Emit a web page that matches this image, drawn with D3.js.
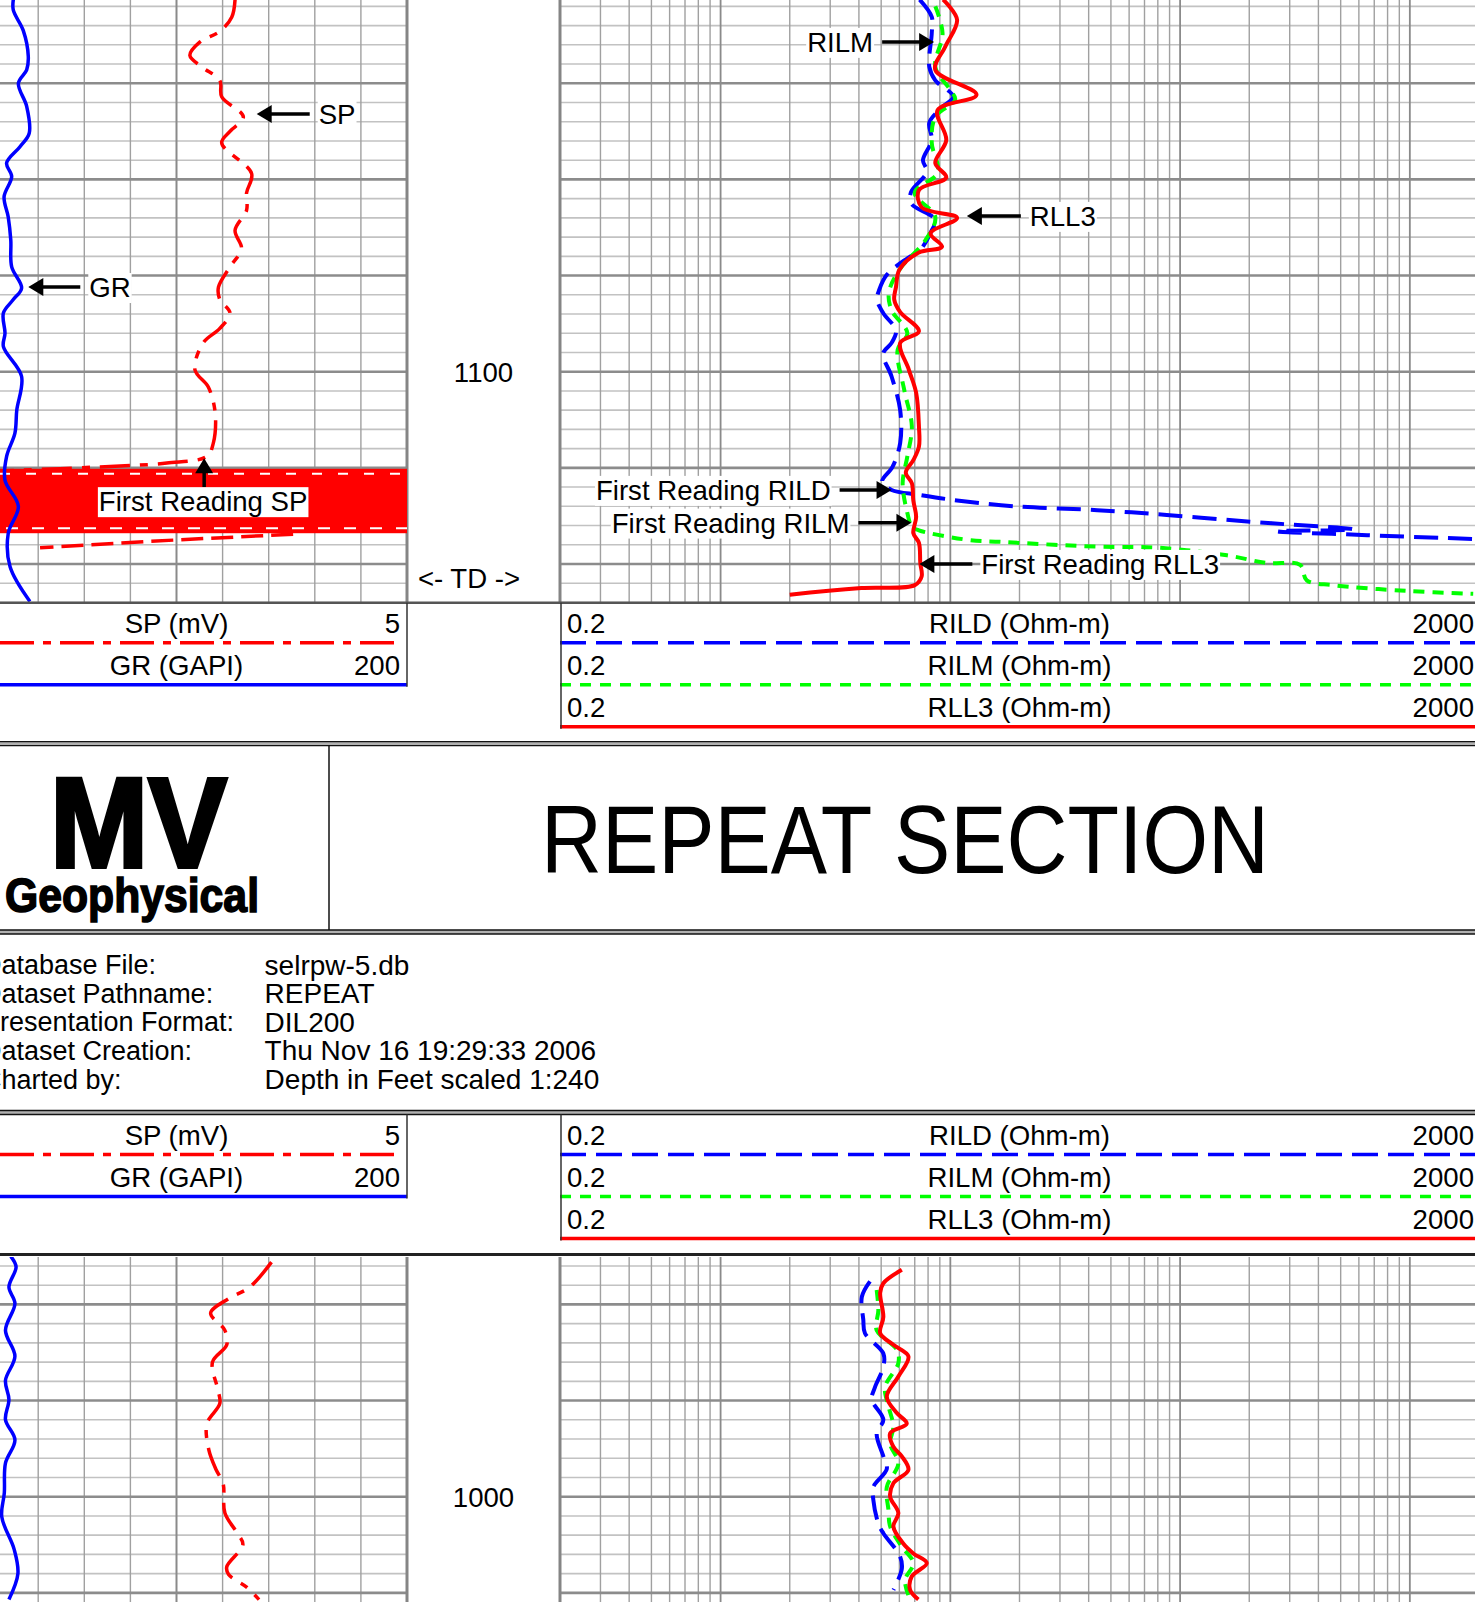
<!DOCTYPE html>
<html>
<head>
<meta charset="utf-8">
<script src="https://cdn.jsdelivr.net/npm/d3@7"></script>
<style>
  body { margin: 0; background: #fff; }
  svg { display: block; font-family: "Liberation Sans", Arial, sans-serif; }
</style>
</head>
<body>
<svg width="1475" height="1602"></svg>
<script>
var svg = d3.select("svg"),
    width = +svg.attr("width"),
    height = +svg.attr("height");

// ---------- curve scales (track min / max) ----------
var grScaleRange = [0, 200];
var spScaleRange = [-95, 5];
var resScaleRange = [0.2, 2000];

// ---------- main pass : [depth ft, value] ----------
var mainGR = [
  [1061.3,29.2],[1062.4,29.2],[1064.5,33.5],[1067.2,35.7],[1068.6,35.0],[1070.0,31.4],
  [1072.4,35.0],[1075.2,36.1],[1076.6,32.1],[1078.3,26.3],[1079.7,28.5],[1081.8,25.2],
  [1083.9,27.0],[1086.3,28.1],[1089.1,28.5],[1091.3,32.8],[1092.5,29.2],[1093.9,24.9],
  [1096.0,25.6],[1097.4,24.9],[1100.5,32.8],[1104.0,30.7],[1106.4,29.9],[1108.8,26.3],
  [1111.3,25.6],[1114.0,31.4],[1116.8,27.0],[1120.3,27.8],[1123.9,36.4]
];
var mainSP = [
  [1061.3,-32.3],[1063.1,-33.0],[1064.6,-35.6],[1065.7,-39.9],[1067.1,-42.1],[1068.3,-39.5],
  [1069.7,-35.6],[1071.4,-35.2],[1073.5,-30.5],[1075.0,-33.4],[1076.2,-35.2],[1079.4,-28.7],
  [1081.4,-29.8],[1083.2,-29.8],[1085.3,-32.3],[1087.2,-30.9],[1089.1,-33.4],[1091.2,-35.9],
  [1092.5,-35.6],[1093.9,-33.4],[1095.5,-35.6],[1097.0,-39.2],[1099.8,-41.0],[1101.6,-38.1],
  [1104.3,-36.6],[1107.4,-37.0],[1108.8,-38.4],[1109.5,-47.1],[1109.9,-61.6],[1110.3,-81.8]
];
// SP below its first reading swings across the whole track
var spJunkBand = [1110.1, 1116.8];
var spJunkTail = [[1116.9,-19.7],[1117.5,-45.0],[1118.3,-74.6]];

var mainRILD = [
  [1061.3,7.35],[1063.1,8.3],[1064.8,8.3],[1068.3,8.1],[1069.7,8.6],[1071.4,10.3],
  [1072.4,9.3],[1074.1,8.1],[1075.9,8.3],[1078.0,7.6],[1079.2,7.9],[1081.3,6.75],
  [1082.5,6.75],[1084.2,8.6],[1085.3,8.3],[1087.4,7.35],[1088.2,6.5],[1089.9,5.3],
  [1091.5,4.9],[1092.5,4.8],[1093.9,5.1],[1095.7,5.8],[1097.0,5.55],[1098.1,5.1],
  [1100.5,5.55],[1104.0,6.05],[1107.4,6.05],[1109.9,5.6],[1111.4,5.05],[1112.3,5.55],
  [1112.8,7.3],[1113.3,10.0],[1114.0,19.1],[1114.4,43.6],[1114.9,87.5],[1115.6,202],
  [1115.9,301],[1116.4,567],[1116.6,265],[1117.0,652],[1117.4,1887]
];
var mainRILM = [
  [1062.0,8.6],[1064.8,9.25],[1068.3,8.6],[1070.7,10.0],[1071.7,10.5],[1073.5,8.6],
  [1076.2,8.3],[1079.3,8.8],[1081.4,7.0],[1083.9,8.6],[1086.3,7.8],[1089.4,6.0],
  [1091.8,5.4],[1093.6,5.55],[1096.0,6.5],[1097.7,5.9],[1101.9,6.3],[1105.7,6.8],
  [1108.8,6.5],[1111.6,6.2],[1114.7,6.5],[1116.1,6.8],[1116.5,7.3],[1117.5,12.0],
  [1117.7,16.5],[1118.2,43.6],[1118.3,79.3],[1119.1,160],[1119.9,239],[1120.1,333],
  [1121.7,356],[1122.2,464],[1122.8,971],[1123.1,1887]
];
var mainRLL3 = [
  [1061.3,9.3],[1063.4,10.7],[1066.2,9.5],[1068.6,8.6],[1071.2,13.0],[1072.8,8.8],
  [1075.9,9.6],[1078.3,8.6],[1079.8,9.6],[1081.1,7.3],[1082.9,7.5],[1084.0,10.7],
  [1085.6,8.2],[1087.0,9.2],[1087.6,7.3],[1089.4,6.0],[1091.2,5.8],[1092.5,5.7],
  [1093.8,6.05],[1095.8,7.3],[1097.0,6.05],[1099.8,6.6],[1102.2,7.1],[1105.7,7.3],
  [1107.8,7.3],[1109.2,6.9],[1110.5,6.4],[1111.6,6.8],[1113.4,6.9],[1115.1,7.1],
  [1116.8,6.9],[1117.8,7.3],[1119.9,7.4],[1121.3,7.5],[1122.2,7.0],[1122.5,4.1],[1123.2,2.0]
];

// ---------- repeat pass ----------
var repGR = [
  [975.0,28.1],[976.1,30.4],[978.2,27.3],[979.9,29.9],[982.7,25.8],[985.4,29.9],
  [987.9,25.8],[989.9,27.3],[992.0,25.8],[994.1,29.9],[996.5,25.8],[999.6,25.3],
  [1002.1,24.2],[1005.5,29.6],[1008.0,31.2],[1010.7,27.3]
];
var repSP = [
  [975.6,-24.4],[978.2,-29.1],[979.4,-33.7],[980.9,-37.6],[982.7,-34.5],[984.2,-34.1],
  [986.0,-37.2],[988.9,-36.0],[990.3,-35.6],[992.4,-38.4],[995.1,-38.0],[997.2,-36.4],
  [998.6,-34.9],[1001.7,-34.5],[1003.8,-31.8],[1005.0,-30.6],[1007.3,-34.1],[1008.1,-33.7],
  [1009.4,-29.8],[1010.7,-27.1]
];
var repRILD = [
  [977.6,4.47],[979.2,4.12],[981.6,4.18],[983.0,4.25],[985.1,5.11],[986.5,5.11],
  [988.6,4.7],[989.9,4.55],[992.0,5.11],[993.4,4.78],[995.8,5.11],[997.1,5.29],
  [999.0,4.62],[1000.3,4.62],[1002.8,4.86],[1003.8,5.11],[1006.2,6.04],[1007.5,6.15],[1009.7,5.65]
];
var repRILM = [
  [978.5,4.78],[980.6,4.86],[982.7,4.78],[984.7,5.85],[986.1,5.94],[988.6,5.2],
  [990.6,5.38],[992.7,5.65],[994.5,5.47],[996.5,5.94],[999.0,5.29],[1001.4,5.38],
  [1003.1,5.47],[1005.2,6.15],[1006.9,6.9],[1008.7,6.35],[1010.7,6.68]
];
var repRLL3 = [
  [976.4,6.15],[977.8,5.11],[978.8,4.95],[981.3,5.11],[983.0,4.95],[984.2,5.65],
  [985.4,6.57],[987.5,5.94],[989.6,5.29],[991.3,5.85],[992.4,6.46],[993.4,5.47],
  [994.8,5.65],[995.8,6.15],[997.2,6.57],[998.6,5.65],[1000.0,5.47],[1001.7,5.94],
  [1003.1,5.65],[1004.9,6.25],[1005.9,6.9],[1006.9,7.9],[1008.3,6.79],[1009.7,6.68],[1010.7,7.26]
];

var mainDepthLabels = [1100];
var repDepthLabels = [1000];
var tdDepth = 1121.5;

var leftLegend = [
  {name: "SP (mV)", hi: "5", color: "#ff0000", dash: "34,9,8,9"},
  {name: "GR (GAPI)", hi: "200", color: "#0000ff", dash: null}
];
var rightLegend = [
  {name: "RILD (Ohm-m)", lo: "0.2", hi: "2000", color: "#0000ff", dash: "26,10"},
  {name: "RILM (Ohm-m)", lo: "0.2", hi: "2000", color: "#00ff00", dash: "11,9"},
  {name: "RLL3 (Ohm-m)", lo: "0.2", hi: "2000", color: "#ff0000", dash: null}
];

var infoLabels = ["Database File:", "Dataset Pathname:", "Presentation Format:", "Dataset Creation:", "Charted by:"];
var infoValues = ["selrpw-5.db", "REPEAT", "DIL200", "Thu Nov 16 19:29:33 2006", "Depth in Feet scaled 1:240"];

// ---------- layout ----------
var FS = 27.6;
var pxPerFt = 9.614;
var leftTrack = [-54, 407], resTrack = [560, 1479];
var mainDepth = d3.scaleLinear()
    .domain([1100 - 371.7 / pxPerFt, 1100 + (602.7 - 371.7) / pxPerFt])
    .range([0, 602.7]);
var repDepth = d3.scaleLinear()
    .domain([1000 - (1496.7 - 1257) / pxPerFt, 1000 + (1602 - 1496.7) / pxPerFt])
    .range([1257, 1602]);
var xGR = d3.scaleLinear().domain(grScaleRange).range(leftTrack);
var xSP = d3.scaleLinear().domain(spScaleRange).range(leftTrack);
var xRes = d3.scaleLog().domain(resScaleRange).range(resTrack);

var styles = {
  GR:   {x: xGR,  color: "#0000ff", w: 3.5, dash: null},
  SP:   {x: xSP,  color: "#ff0000", w: 3.5, dash: "30,10,8,10"},
  RILD: {x: xRes, color: "#0000ff", w: 4,   dash: "24,10"},
  RILM: {x: xRes, color: "#00ff00", w: 4,   dash: "11,8"},
  RLL3: {x: xRes, color: "#ff0000", w: 4,   dash: null}
};

var panels = [
  {key: "main", y: mainDepth, top: 0, bottom: 602.7, labels: mainDepthLabels,
   curves: {GR: mainGR, SP: mainSP, RILD: mainRILD, RILM: mainRILM, RLL3: mainRLL3}},
  {key: "rep", y: repDepth, top: 1257, bottom: 1602, labels: repDepthLabels,
   curves: {GR: repGR, SP: repSP, RILD: repRILD, RILM: repRILM, RLL3: repRLL3}}
];

var defs = svg.append("defs");
panels.forEach(function(p) {
  defs.append("clipPath").attr("id", "clipL-" + p.key).append("rect")
      .attr("x", 0).attr("y", p.top).attr("width", leftTrack[1]).attr("height", p.bottom - p.top);
  defs.append("clipPath").attr("id", "clipR-" + p.key).append("rect")
      .attr("x", resTrack[0]).attr("y", p.top).attr("width", width - resTrack[0]).attr("height", p.bottom - p.top);
});

function isDecade(v) {
  var l = Math.log10(v);
  return Math.abs(l - Math.round(l)) < 1e-6;
}

function drawGrid(p) {
  var g = svg.append("g").attr("class", "grid");
  var y = p.y, dom = y.domain();
  var depths = d3.range(Math.ceil(dom[0] / 2) * 2, dom[1], 2);
  var minor = depths.filter(function(d) { return d % 10 !== 0; });
  var major = depths.filter(function(d) { return d % 10 === 0; });
  var spans = [[0, leftTrack[1]], [resTrack[0], width]];

  spans.forEach(function(s) {
    g.selectAll(null).data(minor).enter().append("line")
        .attr("x1", s[0]).attr("x2", s[1])
        .attr("y1", y).attr("y2", y)
        .attr("stroke", "#c2c2c2").attr("stroke-width", 1.6);
  });

  // left track: ten divisions
  g.selectAll(null).data(d3.range(20, 200, 20)).enter().append("line")
      .attr("x1", xGR).attr("x2", xGR)
      .attr("y1", p.top).attr("y2", p.bottom)
      .attr("stroke", function(d) { return d === 100 ? "#8a8a8a" : "#a0a0a0"; })
      .attr("stroke-width", function(d) { return d === 100 ? 2 : 1.4; });

  // resistivity track: log grid
  var resTicks = xRes.ticks().filter(function(v) { return v > resScaleRange[0] && v < resScaleRange[1]; });
  g.selectAll(null).data(resTicks).enter().append("line")
      .attr("x1", xRes).attr("x2", xRes)
      .attr("y1", p.top).attr("y2", p.bottom)
      .attr("stroke", function(d) { return isDecade(d) ? "#8a8a8a" : "#a0a0a0"; })
      .attr("stroke-width", function(d) { return isDecade(d) ? 1.8 : 1.4; });

  spans.forEach(function(s) {
    g.selectAll(null).data(major).enter().append("line")
        .attr("x1", s[0]).attr("x2", s[1])
        .attr("y1", y).attr("y2", y)
        .attr("stroke", "#8c8c8c").attr("stroke-width", 2.6);
  });

  // track borders
  [leftTrack[1], resTrack[0]].forEach(function(x) {
    g.append("line").attr("x1", x).attr("x2", x).attr("y1", p.top).attr("y2", p.bottom)
        .attr("stroke", "#858585").attr("stroke-width", 3);
  });

  // depth labels
  g.selectAll(null).data(p.labels).enter().append("text")
      .attr("x", (leftTrack[1] + resTrack[0]) / 2).attr("y", y)
      .attr("dy", "0.36em").attr("text-anchor", "middle")
      .attr("font-size", FS).attr("fill", "#000")
      .text(function(d) { return d; });
}

function drawCurves(p) {
  var left = svg.append("g").attr("clip-path", "url(#clipL-" + p.key + ")");
  var right = svg.append("g").attr("clip-path", "url(#clipR-" + p.key + ")");

  if (p.key === "main") {
    // SP swinging through the whole track before first reading
    var bandTop = p.y(spJunkBand[0]), bandBot = p.y(spJunkBand[1]);
    left.append("rect")
        .attr("x", xSP(spScaleRange[0])).attr("width", xSP(spScaleRange[1]) - xSP(spScaleRange[0]))
        .attr("y", bandTop).attr("height", bandBot - bandTop)
        .attr("fill", "#ff0000");
    left.append("line").attr("x1", 0).attr("x2", leftTrack[1])
        .attr("y1", bandTop + 5).attr("y2", bandTop + 5)
        .attr("stroke", "#fff").attr("stroke-width", 2).attr("stroke-dasharray", "10,16");
    left.append("line").attr("x1", 6).attr("x2", leftTrack[1])
        .attr("y1", bandBot - 5).attr("y2", bandBot - 5)
        .attr("stroke", "#fff").attr("stroke-width", 2).attr("stroke-dasharray", "12,14");
    left.append("path")
        .attr("d", d3.line()
            .x(function(d) { return xSP(d[1]); })
            .y(function(d) { return p.y(d[0]); })(spJunkTail))
        .attr("fill", "none").attr("stroke", "#ff0000").attr("stroke-width", 3.5)
        .attr("stroke-dasharray", "22,8");
  }

  ["GR", "SP", "RILD", "RILM", "RLL3"].forEach(function(k) {
    var s = styles[k];
    var line = d3.line()
        .x(function(d) { return s.x(d[1]); })
        .y(function(d) { return p.y(d[0]); })
        .curve(d3.curveCatmullRom.alpha(0.5));
    var target = (k === "GR" || k === "SP") ? left : right;
    target.append("path")
        .attr("d", line(p.curves[k]))
        .attr("fill", "none")
        .attr("stroke", s.color)
        .attr("stroke-width", s.w)
        .attr("stroke-linejoin", "round")
        .attr("stroke-dasharray", s.dash);
  });
}

panels.forEach(drawGrid);
panels.forEach(drawCurves);

// TD marker
svg.append("text")
    .attr("x", 469).attr("y", mainDepth(tdDepth)).attr("dy", "0.36em")
    .attr("text-anchor", "middle").attr("font-size", FS)
    .text("<- TD ->");

// ---------- annotations ----------
var notes = [
  {text: "SP", x: xSP, value: -27.6, depth: 1073.2, dir: 1, len: 53},
  {text: "GR", x: xGR, value: 35.7, depth: 1091.2, dir: 1, len: 52},
  {text: "RILM", x: xRes, value: 8.5, depth: 1065.7, dir: -1, len: 52},
  {text: "RLL3", x: xRes, value: 11.8, depth: 1083.8, dir: 1, len: 54},
  {text: "First Reading RILD", x: xRes, value: 5.55, depth: 1112.3, dir: -1, len: 52},
  {text: "First Reading RILM", x: xRes, value: 6.77, depth: 1115.7, dir: -1, len: 53},
  {text: "First Reading RLL3", x: xRes, value: 7.33, depth: 1120.0, dir: 1, len: 53}
];

var noteG = svg.append("g");

function labelWithBox(g, x, y, anchor, txt) {
  var box = g.append("rect").attr("fill", "#fff");
  var t = g.append("text")
      .attr("x", x).attr("y", y).attr("dy", "0.36em")
      .attr("text-anchor", anchor).attr("font-size", FS).attr("fill", "#000")
      .text(txt);
  var b = t.node().getBBox();
  box.attr("x", b.x - 1).attr("y", b.y + 1).attr("width", b.width + 2).attr("height", b.height - 1);
}

function arrowHead(g, tx, ty, dx, dy) {
  var L = 15, H = 9, bx = tx + dx * L, by = ty + dy * L;
  g.append("path")
      .attr("d", "M" + tx + "," + ty + "L" + (bx - dy * H) + "," + (by + dx * H) +
                 "L" + (bx + dy * H) + "," + (by - dx * H) + "Z")
      .attr("fill", "#000");
}

notes.forEach(function(n) {
  var tx = n.x(n.value), ty = mainDepth(n.depth);
  var tail = tx + n.dir * n.len;
  noteG.append("line").attr("x1", tail).attr("x2", tx + n.dir * 12)
      .attr("y1", ty).attr("y2", ty)
      .attr("stroke", "#000").attr("stroke-width", 3.5);
  arrowHead(noteG, tx, ty, n.dir, 0);
  labelWithBox(noteG, tail + n.dir * 9, ty, n.dir > 0 ? "start" : "end", n.text);
});

// first reading SP: vertical arrow
(function() {
  var tx = xSP(-39.0), ty = mainDepth(1109.0);
  noteG.append("line").attr("x1", tx).attr("x2", tx).attr("y1", ty + 12).attr("y2", ty + 29)
      .attr("stroke", "#000").attr("stroke-width", 3.5);
  arrowHead(noteG, tx, ty, 0, 1);
  labelWithBox(noteG, tx - 1, ty + 43, "middle", "First Reading SP");
})();

// ---------- headers ----------
function drawHeader(top) {
  var g = svg.append("g");
  leftLegend.forEach(function(c, i) {
    var rowY = top + 20.5 + i * 42, lineY = top + 40 + i * 42;
    g.append("text").attr("x", (leftTrack[0] + leftTrack[1]) / 2).attr("y", rowY).attr("dy", "0.36em")
        .attr("text-anchor", "middle").attr("font-size", FS).text(c.name);
    g.append("text").attr("x", 400).attr("y", rowY).attr("dy", "0.36em")
        .attr("text-anchor", "end").attr("font-size", FS).text(c.hi);
    g.append("line").attr("x1", 0).attr("x2", c.dash ? 403 : leftTrack[1])
        .attr("y1", lineY).attr("y2", lineY)
        .attr("stroke", c.color).attr("stroke-width", 3.5)
        .attr("stroke-dasharray", c.dash);
  });
  g.append("line").attr("x1", leftTrack[1]).attr("x2", leftTrack[1])
      .attr("y1", top).attr("y2", top + 84)
      .attr("stroke", "#333").attr("stroke-width", 1.5);

  rightLegend.forEach(function(c, i) {
    var rowY = top + 20.5 + i * 42, lineY = top + 40 + i * 42;
    g.append("text").attr("x", 567).attr("y", rowY).attr("dy", "0.36em")
        .attr("font-size", FS).text(c.lo);
    g.append("text").attr("x", (resTrack[0] + resTrack[1]) / 2).attr("y", rowY).attr("dy", "0.36em")
        .attr("text-anchor", "middle").attr("font-size", FS).text(c.name);
    g.append("text").attr("x", 1474).attr("y", rowY).attr("dy", "0.36em")
        .attr("text-anchor", "end").attr("font-size", FS).text(c.hi);
    g.append("line").attr("x1", resTrack[0]).attr("x2", width)
        .attr("y1", lineY).attr("y2", lineY)
        .attr("stroke", c.color).attr("stroke-width", 3.5)
        .attr("stroke-dasharray", c.dash);
  });
  g.append("line").attr("x1", resTrack[0] + 1).attr("x2", resTrack[0] + 1)
      .attr("y1", top).attr("y2", top + 126)
      .attr("stroke", "#333").attr("stroke-width", 1.5);
}

function doubleRule(y) {
  svg.append("rect").attr("x", 0).attr("y", y).attr("width", width).attr("height", 4)
      .attr("fill", "#b0b0b0");
  [y, y + 4].forEach(function(yy) {
    svg.append("line").attr("x1", 0).attr("x2", width).attr("y1", yy).attr("y2", yy)
        .attr("stroke", "#111").attr("stroke-width", 1.4);
  });
}

// bottom border of the main plot
svg.append("line").attr("x1", 0).attr("x2", width).attr("y1", 602.7).attr("y2", 602.7)
    .attr("stroke", "#555").attr("stroke-width", 2.5);
drawHeader(602.7);

doubleRule(741.6);
doubleRule(930);
svg.append("line").attr("x1", 329).attr("x2", 329).attr("y1", 745.6).attr("y2", 930)
    .attr("stroke", "#111").attr("stroke-width", 1.5);

// logo
svg.append("text").attr("x", 50).attr("y", 867)
    .attr("font-size", 128).attr("font-weight", "bold")
    .attr("stroke", "#000").attr("stroke-width", 4).attr("stroke-linejoin", "miter")
    .attr("textLength", 177).attr("lengthAdjust", "spacingAndGlyphs")
    .text("MV");
svg.append("text").attr("x", 5).attr("y", 912)
    .attr("font-size", 48).attr("font-weight", "bold")
    .attr("stroke", "#000").attr("stroke-width", 1.6)
    .attr("textLength", 254).attr("lengthAdjust", "spacingAndGlyphs")
    .text("Geophysical");

// title
svg.append("text").attr("x", 541).attr("y", 873)
    .attr("font-size", 96)
    .attr("textLength", 728).attr("lengthAdjust", "spacingAndGlyphs")
    .text("REPEAT SECTION");

// info block
var infoG = svg.append("g");
infoLabels.forEach(function(l, i) {
  var yy = 964.5 + i * 28.6;
  infoG.append("text").attr("x", -18).attr("y", yy).attr("dy", "0.36em")
      .attr("font-size", 27).text(l);
  infoG.append("text").attr("x", 264.6).attr("y", yy).attr("dy", "0.36em")
      .attr("font-size", 28).text(infoValues[i]);
});

doubleRule(1110.5);
drawHeader(1114.5);

// top border of the repeat plot
svg.append("line").attr("x1", 0).attr("x2", width).attr("y1", 1254.5).attr("y2", 1254.5)
    .attr("stroke", "#222").attr("stroke-width", 3);
</script>
</body>
</html>
